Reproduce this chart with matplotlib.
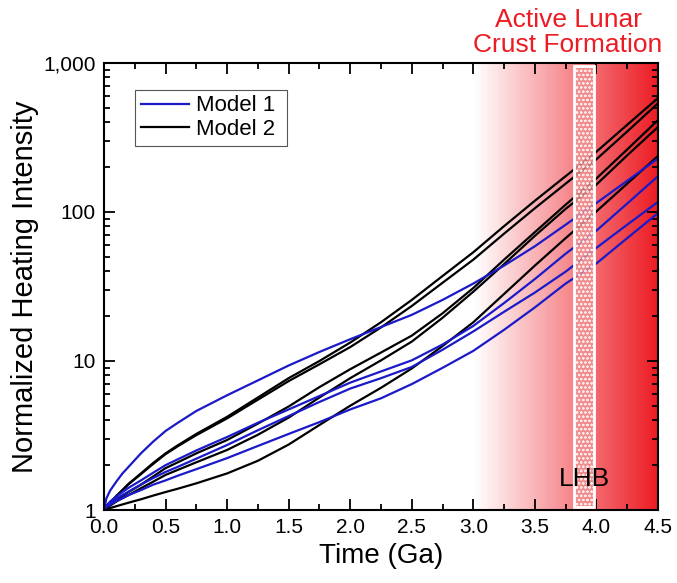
import numpy as np
import matplotlib
matplotlib.use("Agg")
import matplotlib.pyplot as plt
import matplotlib.ticker as mticker
from matplotlib.colors import LinearSegmentedColormap
from matplotlib.patches import Rectangle

plt.rcParams["font.family"] = ["Liberation Sans", "DejaVu Sans"]
plt.rcParams["hatch.linewidth"] = 0.5

BLUE = "#1a1ac8"
BLACK = "#000000"
RED = "#ec1c24"

# ── data ──────────────────────────────────────────────────────────────────────
time_ga = [0, 0.02, 0.05, 0.1, 0.15, 0.2, 0.3, 0.4, 0.5, 0.6, 0.75, 1.0, 1.25,
           1.5, 1.75, 2.0, 2.25, 2.5, 2.75, 3.0, 3.25, 3.5, 3.75, 4.0, 4.25, 4.5]

# Model 1 (blue)
m1_a = [1, 1.20, 1.35, 1.55, 1.76, 1.95, 2.40, 2.88, 3.39, 3.85, 4.62, 5.89, 7.41,
        9.33, 11.5, 14.0, 16.9, 20.4, 25.7, 33.1, 43.7, 58.9, 82.2, 115, 162, 229]
m1_b = [1, 1.07, 1.14, 1.23, 1.32, 1.41, 1.58, 1.78, 2.00, 2.19, 2.51, 3.09, 3.85,
        4.73, 5.82, 7.16, 8.51, 10.1, 12.9, 17.2, 24.5, 35.5, 52.5, 75.0, 114, 174]
m1_c = [1, 1.06, 1.11, 1.19, 1.26, 1.33, 1.48, 1.64, 1.80, 1.95, 2.21, 2.73, 3.43,
        4.27, 5.31, 6.53, 7.67, 9.12, 11.9, 15.8, 21.4, 28.8, 39.8, 57.5, 82.2, 117]
m1_d = [1, 1.05, 1.08, 1.15, 1.20, 1.26, 1.36, 1.48, 1.58, 1.70, 1.88, 2.23, 2.69,
        3.24, 3.89, 4.73, 5.62, 7.00, 9.00, 11.7, 16.2, 22.9, 33.1, 45.2, 66.8, 98.4]

# Model 2 (black)
m2_a = [1, 1.06, 1.12, 1.24, 1.36, 1.50, 1.76, 2.07, 2.40, 2.72, 3.24, 4.22, 5.69,
        7.67, 10.0, 13.3, 18.2, 25.7, 37.2, 53.7, 80.4, 119, 174, 254, 385, 582]
m2_b = [1, 1.06, 1.12, 1.24, 1.36, 1.49, 1.74, 2.04, 2.37, 2.68, 3.18, 4.12, 5.50,
        7.33, 9.51, 12.4, 16.8, 23.4, 33.5, 47.9, 71.6, 106, 155, 226, 347, 537]
m2_c = [1, 1.035, 1.08, 1.16, 1.24, 1.32, 1.48, 1.68, 1.91, 2.09, 2.40, 2.95, 3.80,
        4.95, 6.68, 8.81, 11.4, 14.8, 20.9, 30.9, 47.9, 73.3, 112, 168, 263, 414]
m2_d = [1, 1.03, 1.07, 1.14, 1.20, 1.26, 1.40, 1.55, 1.72, 1.86, 2.09, 2.53, 3.20,
        4.17, 5.69, 7.67, 10.1, 13.5, 19.5, 29.2, 44.7, 69.2, 105, 153, 240, 372]
m2_e = [1, 1.01, 1.03, 1.06, 1.09, 1.12, 1.18, 1.25, 1.32, 1.39, 1.51, 1.76, 2.14,
        2.75, 3.72, 5.01, 6.61, 8.91, 12.6, 18.2, 28.2, 43.7, 66.8, 101, 155, 238]

model1 = [m1_a, m1_b, m1_c, m1_d]
model2 = [m2_a, m2_b, m2_c, m2_d, m2_e]

crust_start, crust_end = 3.0, 4.5
lhb_start, lhb_end = 3.82, 3.98

# ── figure ─────────────────────────────────────────────────────────────────────
fig = plt.figure(figsize=(6.77, 5.83), dpi=100)
ax = fig.add_axes([0.1536, 0.1252, 0.8184, 0.7668])
ax.set_yscale("log")
ax.set_xlim(0, 4.5)
ax.set_ylim(1, 1000)

# white -> red gradient for the crust formation period
cmap = LinearSegmentedColormap.from_list("crust", ["#ffffff", RED])
gx = np.linspace(crust_start, crust_end, 151)
shade = np.linspace(0, 1, len(gx) - 1)[np.newaxis, :]
ax.pcolormesh(gx, [1, 1000], shade, cmap=cmap, shading="flat",
              edgecolors="none", antialiased=False, zorder=0)

for i, y in enumerate(model2):
    ax.plot(time_ga, y, color=BLACK, lw=1.6, zorder=2,
            label="Model 2" if i == 0 else None)
for i, y in enumerate(model1):
    ax.plot(time_ga, y, color=BLUE, lw=1.6, zorder=2.1,
            label="Model 1" if i == 0 else None)

# LHB band: stippled pink column with white outline
ax.add_patch(Rectangle((lhb_start, 1.05), lhb_end - lhb_start, 955 - 1.05,
                       facecolor="#ee9494", alpha=0.8, edgecolor="white",
                       hatch="oooo", lw=0, zorder=3))
ax.add_patch(Rectangle((lhb_start, 1.05), lhb_end - lhb_start, 955 - 1.05,
                       facecolor="none", edgecolor="white", lw=2, zorder=3.1))
ax.text((lhb_start + lhb_end) / 2, 1.62, "LHB", ha="center", va="center",
        fontsize=19, color="black", zorder=4)

# axes styling
ax.xaxis.set_major_locator(mticker.MultipleLocator(0.5))
ax.xaxis.set_minor_locator(mticker.MultipleLocator(0.25))
ax.xaxis.set_major_formatter(mticker.FormatStrFormatter("%.1f"))
ax.yaxis.set_major_locator(mticker.FixedLocator([1, 10, 100, 1000]))
ax.yaxis.set_minor_locator(mticker.LogLocator(base=10, subs=np.arange(2, 10)))
ax.yaxis.set_major_formatter(mticker.FuncFormatter(lambda v, p: f"{v:,.0f}"))
ax.yaxis.set_minor_formatter(mticker.NullFormatter())
ax.tick_params(which="both", direction="in", top=True, right=True, width=1.3,
               labelsize=15, colors="black")
ax.tick_params(which="major", length=8, pad=6)
ax.tick_params(which="minor", length=4)
for spine in ax.spines.values():
    spine.set_linewidth(1.5)
    spine.set_zorder(5)

ax.set_xlabel("Time (Ga)", fontsize=20, labelpad=4)
ax.set_ylabel("Normalized Heating Intensity", fontsize=21, labelpad=3)

handles, labels = ax.get_legend_handles_labels()
order = [labels.index("Model 1"), labels.index("Model 2")]
leg = ax.legend([handles[i] for i in order],
                [labels[i] + " " for i in order],
                loc="upper left", bbox_to_anchor=(0.056, 0.94), borderaxespad=0,
                fontsize=16, frameon=True, fancybox=False, framealpha=1,
                edgecolor="#555555", handlelength=2.2, handletextpad=0.3,
                borderpad=0.25, labelspacing=0.12)
leg.get_frame().set_linewidth(0.8)

fig.text(0.839, 0.945, "Active Lunar\nCrust Formation", ha="center", va="center",
         fontsize=19, color=RED, linespacing=1.05)

fig.savefig("out.png", dpi=100)
